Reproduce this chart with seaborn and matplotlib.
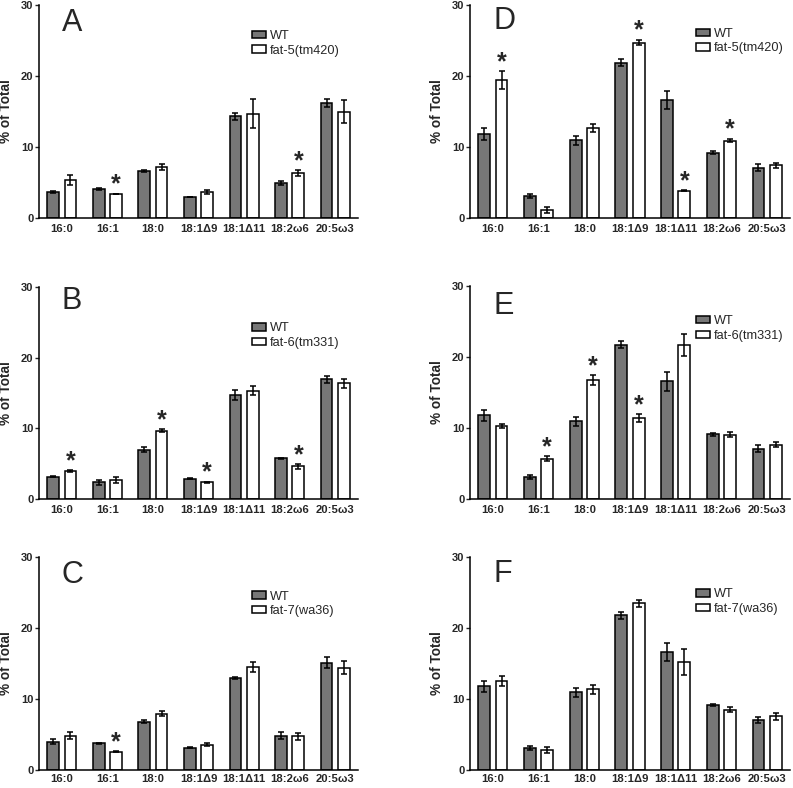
import numpy as np
import pandas as pd
import matplotlib
matplotlib.use("Agg")
import matplotlib.pyplot as plt
import seaborn as sns

# fatty acid classes on the x axis
ACIDS = ["16:0", "16:1", "18:0", "18:1Δ9", "18:1Δ11", "18:2ω6", "20:5ω3"]

# panel letters and mutant names
PANELS = ["A", "B", "C", "D", "E", "F"]
MUTANTS = ["fat-5(tm420)", "fat-6(tm331)", "fat-7(wa36)",
           "fat-5(tm420)", "fat-6(tm331)", "fat-7(wa36)"]

# WT means / sem
wt_A = [3.7, 4.1, 6.65, 2.95, 14.3, 4.95, 16.2]
wt_A_err = [0.15, 0.15, 0.15, 0.05, 0.45, 0.3, 0.6]
wt_B = [3.15, 2.35, 6.95, 2.87, 14.75, 5.75, 16.95]
wt_B_err = [0.1, 0.4, 0.35, 0.05, 0.7, 0.1, 0.5]
wt_C = [4.0, 3.75, 6.8, 3.14, 12.9, 4.85, 15.1]
wt_C_err = [0.3, 0.1, 0.25, 0.05, 0.15, 0.5, 0.75]
wt_D = [11.85, 3.1, 10.95, 21.85, 16.6, 9.2, 7.1]
wt_D_err = [0.8, 0.3, 0.65, 0.5, 1.3, 0.2, 0.5]
wt_E = [11.8, 3.05, 10.95, 21.75, 16.55, 9.12, 7.07]
wt_E_err = [0.8, 0.3, 0.65, 0.5, 1.3, 0.2, 0.5]
wt_F = [11.8, 3.05, 10.95, 21.8, 16.6, 9.14, 7.08]
wt_F_err = [0.8, 0.3, 0.6, 0.5, 1.3, 0.15, 0.4]

# mutant means / sem
mut_A = [5.4, 3.4, 7.2, 3.65, 14.7, 6.3, 14.95]
mut_A_err = [0.7, 0.05, 0.4, 0.25, 2.0, 0.4, 1.6]
mut_B = [3.95, 2.73, 9.65, 2.35, 15.35, 4.6, 16.35]
mut_B_err = [0.15, 0.4, 0.2, 0.1, 0.6, 0.3, 0.6]
mut_C = [4.85, 2.6, 7.9, 3.55, 14.5, 4.75, 14.4]
mut_C_err = [0.5, 0.05, 0.35, 0.2, 0.7, 0.5, 0.9]
mut_D = [19.4, 1.15, 12.7, 24.7, 3.85, 10.9, 7.4]
mut_D_err = [1.3, 0.45, 0.6, 0.4, 0.1, 0.25, 0.4]
mut_E = [10.3, 5.65, 16.75, 11.4, 21.7, 9.08, 7.67]
mut_E_err = [0.3, 0.35, 0.7, 0.55, 1.5, 0.3, 0.35]
mut_F = [12.6, 2.8, 11.35, 23.5, 15.2, 8.5, 7.55]
mut_F_err = [0.7, 0.45, 0.6, 0.5, 1.8, 0.4, 0.5]

# significance stars (on mutant bar)
stars_A = [0, 1, 0, 0, 0, 1, 0]
stars_B = [1, 0, 1, 1, 0, 1, 0]
stars_C = [0, 1, 0, 0, 0, 0, 0]
stars_D = [1, 0, 0, 1, 1, 1, 0]
stars_E = [0, 1, 1, 1, 0, 0, 0]
stars_F = [0, 0, 0, 0, 0, 0, 0]

WT = [wt_A, wt_B, wt_C, wt_D, wt_E, wt_F]
WT_ERR = [wt_A_err, wt_B_err, wt_C_err, wt_D_err, wt_E_err, wt_F_err]
MUT = [mut_A, mut_B, mut_C, mut_D, mut_E, mut_F]
MUT_ERR = [mut_A_err, mut_B_err, mut_C_err, mut_D_err, mut_E_err, mut_F_err]
STARS = [stars_A, stars_B, stars_C, stars_D, stars_E, stars_F]

sns.set_style("ticks")
plt.rcParams["font.family"] = ["Liberation Sans", "DejaVu Sans"]

W, H = 793, 788
fig = plt.figure(figsize=(W / 100, H / 100), dpi=100)

# axes boxes in pixels: left, right, top, bottom
boxes = [(39, 358, 5, 218), (39, 358, 287, 499), (39, 358, 557, 770),
         (470, 790, 5, 218), (470, 790, 286, 499), (470, 790, 557, 770)]
legend_y = [0.82, 0.77, 0.78, 0.83, 0.80, 0.79]
letter_y = [0.915, 0.935, 0.915, 0.925, 0.905, 0.92]

for i in range(6):
    l, r, t, b = boxes[i]
    ax = fig.add_axes([l / W, 1 - b / H, (r - l) / W, (b - t) / H])
    df = pd.DataFrame({
        "acid": ACIDS * 2,
        "value": WT[i] + MUT[i],
        "geno": ["WT"] * 7 + [MUTANTS[i]] * 7,
    })
    sns.barplot(data=df, x="acid", y="value", hue="geno",
                palette=["#777777", "white"], edgecolor="black", linewidth=1.1,
                width=0.76, gap=0.32, errorbar=None, ax=ax)

    errs = [WT_ERR[i], MUT_ERR[i]]
    bar_sets = list(ax.containers)
    for c, cont in enumerate(bar_sets):
        for j, bar in enumerate(cont.patches):
            x = bar.get_x() + bar.get_width() / 2
            h = bar.get_height()
            ax.errorbar(x, h, yerr=errs[c][j], fmt="none", ecolor="black",
                        elinewidth=1.1, capsize=2.5, capthick=1.1, zorder=5)
            if c == 1 and STARS[i][j]:
                ax.text(x, h + errs[c][j] + 0.3, "*", ha="center",
                        va="baseline", fontsize=18, fontweight="bold")

    ax.set_xlim(-0.5, 6.5)
    ax.set_ylim(0, 30)
    ax.set_yticks([0, 10, 20, 30])
    ax.set_xlabel("")
    ax.set_ylabel("% of Total", fontsize=9.8, fontweight="bold")
    ax.yaxis.set_label_coords(-26 / (r - l), 0.5)
    ax.tick_params(axis="x", length=0, pad=3 if i in (2, 5) else 4, labelsize=8.1)
    ax.tick_params(axis="y", length=3, width=1, pad=1, labelsize=8)
    for lab in ax.get_xticklabels() + ax.get_yticklabels():
        lab.set_fontweight("bold")
    sns.despine(ax=ax)
    for s in ["left", "bottom"]:
        ax.spines[s].set_linewidth(1.1)
        ax.spines[s].set_color("black")

    handles, labels = ax.get_legend_handles_labels()
    ax.legend(handles, labels, loc="center left",
              bbox_to_anchor=(0.667 if i < 3 else 0.706, legend_y[i]),
              frameon=False, fontsize=9.2, handlelength=1.1, handleheight=0.5,
              handletextpad=0.3, labelspacing=0.2, borderpad=0, borderaxespad=0)

    ax.text(0.072, letter_y[i], PANELS[i], transform=ax.transAxes,
            fontsize=22, ha="left", va="center")

fig.savefig("out.png", dpi=100)
